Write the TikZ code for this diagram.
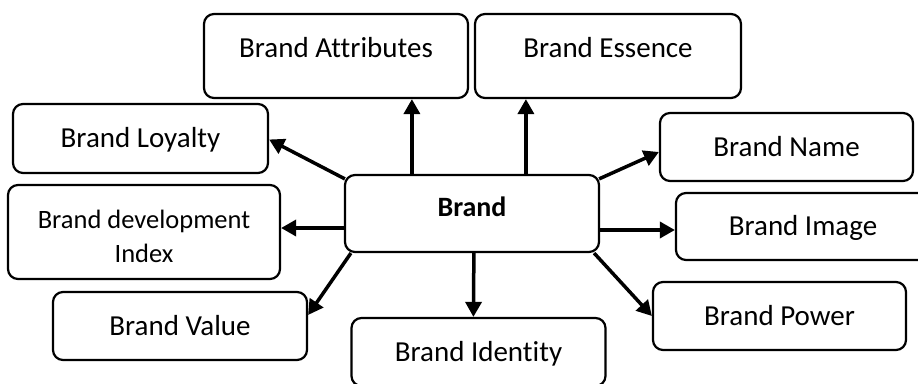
\documentclass[tikz,border=0pt]{standalone}
\usepackage{fontspec}
\setmainfont{Carlito}[Ligatures=NoCommon]
\usetikzlibrary{arrows.meta}

\tikzset{
  box/.style={draw,line width=2.2pt,rounded corners=10pt,
    minimum width=254pt,minimum height=68pt,
    font=\fontsize{29}{35}\selectfont,text height=24pt,text depth=6pt},
  link/.style={line width=3.5pt,-{Triangle[length=15pt,width=16pt]}}
}

\begin{document}
\begin{tikzpicture}[x=1pt,y=-1pt]
    \useasboundingbox (0,0) rectangle (918,383);

    % 中心框
    \node[box,minimum height=77pt,text depth=18pt,font=\fontsize{28}{34}\selectfont\bfseries]
        (brand) at (472,213.5) {Brand};

    % 上方两个框
    \node[box,minimum width=264pt,minimum height=84pt,text depth=22pt] (attr) at (336,56) {Brand Attributes};
    \node[box,minimum width=266pt,minimum height=84pt,text depth=22pt] (essence) at (608,56) {Brand Essence};

    % 左侧三个框
    \node[box,minimum width=255pt,minimum height=69pt] (loyal) at (140.5,138.5) {Brand Loyalty};
    \node[box,minimum width=272pt,minimum height=94pt,align=center,
        font=\fontsize{26.5}{34}\selectfont,text height=67pt,text depth=6pt]
        (devidx) at (144,232) {Brand development\\Index};
    \node[box] (value) at (180,326) {Brand Value};

    % 下方与右侧的框
    \node[box] (ident) at (478.5,352) {Brand Identity};
    \node[box,minimum width=253pt] (name) at (786.5,147) {Brand Name};
    \node[box,minimum height=67pt] (image) at (803,226.5) {Brand Image};
    \node[box,minimum width=253pt] (power) at (779.5,316) {Brand Power};

    % 从中心框出发的箭头
    \draw[link] ([xshift=68pt]brand.north west) -- ([xshift=209pt]attr.south west);
    \draw[link] ([xshift=182pt]brand.north west) -- ([xshift=52pt]essence.south west);
    \draw[link] ([xshift=1pt,yshift=-5pt]brand.north west) -- ([yshift=-1pt]loyal.east);
    \draw[link] ([xshift=-1pt,yshift=-5pt]brand.north east) -- ([yshift=-5pt]name.west);
    \draw[link] ([yshift=-14.5pt]brand.west) -- ([yshift=4pt]devidx.east);
    \draw[link] ([yshift=-16.5pt]brand.east) -- ([yshift=-3.5pt]image.west);
    \draw[link] ([xshift=7pt]brand.south west) -- ([yshift=11pt]value.east);
    \draw[link] ([xshift=130pt]brand.south west) -- ([xshift=123pt]ident.north west);
    \draw[link] ([xshift=-6pt]brand.south east) -- (power.west);

\end{tikzpicture}
\end{document}
